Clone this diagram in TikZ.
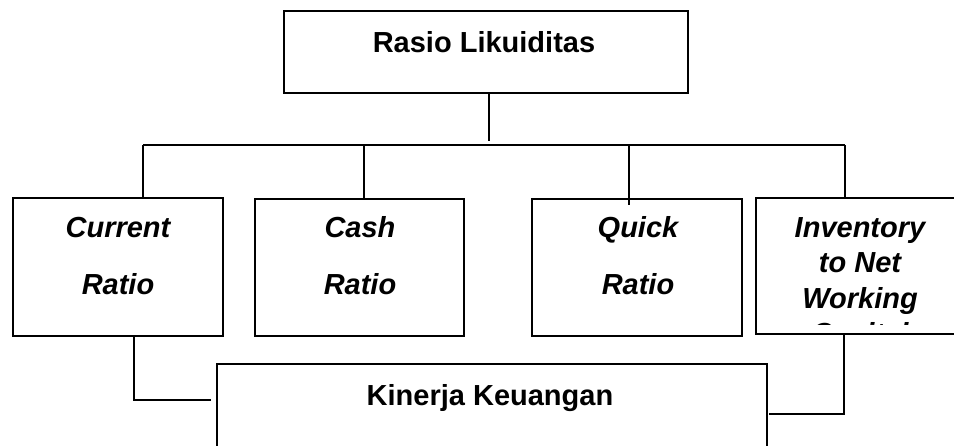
\documentclass[tikz,border=0pt]{standalone}
\usepackage{fontspec}
\setmainfont{Liberation Sans}
\newcommand\boxfont{\fontsize{29}{35}\selectfont\bfseries}
\newcommand\itfont{\fontsize{29}{35}\selectfont\bfseries\itshape}
\begin{document}
\begin{tikzpicture}[x=1pt,y=-1pt,line width=1.9pt,
  frame/.style={draw,rectangle,inner sep=0pt,anchor=north west},
  ttl/.style={font=\boxfont,inner sep=0pt,anchor=base},
  itl/.style={font=\itfont,inner sep=0pt,anchor=base}]
\useasboundingbox (0,0) rectangle (954,445);
% boxes
\node[frame,minimum width=404pt,minimum height=82pt] (top) at (283,10) {};
\node[frame,minimum width=210pt,minimum height=138pt] (cur) at (12,197) {};
\node[frame,minimum width=209pt,minimum height=137pt] (cash) at (254,198) {};
\node[frame,minimum width=210pt,minimum height=137pt] (quick) at (531,198) {};
\node[frame,minimum width=240pt,minimum height=136pt] (inv) at (755,197) {};
\node[frame,minimum width=550pt,minimum height=110pt] (kin) at (216,363) {};
% texts
\node[ttl] (ttop) at (484,52) {Rasio Likuiditas};
\node[itl] (tcur1) at (118,237) {Current};
\node[itl] (tcur2) at (118,294) {Ratio};
\node[itl] (tcash1) at (360,237) {Cash};
\node[itl] (tcash2) at (360,294) {Ratio};
\node[itl] (tq1) at (638,237) {Quick};
\node[itl] (tq2) at (638,294) {Ratio};
\node[itl] (tinv1) at (860,237) {Inventory};
\node[itl] (tinv2) at (860,272.5) {to Net};
\node[itl] (tinv3) at (860,308) {Working};
\begin{scope}
  \clip (780,300) rectangle (950,324.3);
  \node[itl] (tinv4) at (860,343.5) {Capital};
\end{scope}
\node[ttl] (tkin) at (490,405) {Kinerja Keuangan};
% tree connectors
\coordinate (j) at (489,141);
\coordinate (barL) at (143,145);
\coordinate (barR) at (845,145);
\coordinate (bc) at (364,145);
\coordinate (bq) at (629,145);
\coordinate (qend) at (629,205);
\draw (top.south -| j) -- (j);
\draw (barL) -- (barR);
\draw (barL) -- ([yshift=-2pt]cur.north -| barL);
\draw (bc) -- ([yshift=-1pt]cash.north -| bc);
\draw (bq) -- (qend);
\draw (barR) -- ([yshift=-1pt]inv.north -| barR);
% links to Kinerja Keuangan
\coordinate (kl) at (211,400);
\coordinate (kr) at (769,414);
\draw (cur.south -| 134,0) |- (kl);
\draw (inv.south -| 844,0) |- (kr);
\end{tikzpicture}
\end{document}
